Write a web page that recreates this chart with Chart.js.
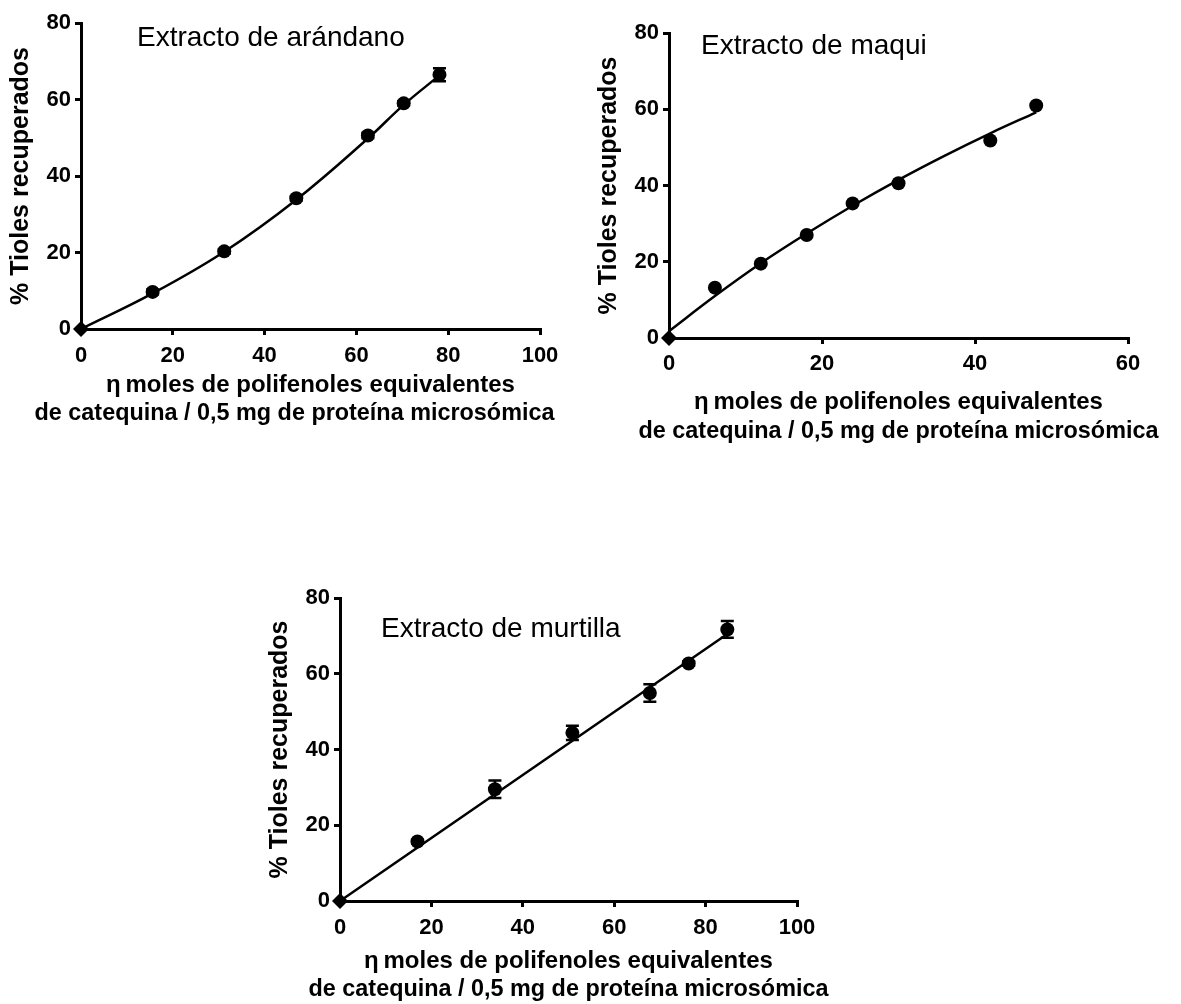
<!DOCTYPE html>
<html>
<head>
<meta charset="utf-8">
<script src="https://cdn.jsdelivr.net/npm/chart.js@4.4.0/dist/chart.umd.min.js"></script>
<style>
  body { margin: 0; background: #fff; width: 1181px; height: 1004px; position: relative; overflow: hidden; }
  canvas { position: absolute; }
</style>
</head>
<body>
<canvas id="c1" width="590" height="440" style="left:0px;top:0px"></canvas>
<canvas id="c2" width="591" height="460" style="left:590px;top:0px"></canvas>
<canvas id="c3" width="600" height="434" style="left:250px;top:570px"></canvas>
<script>
// Extracto de arándano
const arandanoX = [0, 15.6, 31.2, 46.9, 62.5, 70.3, 78.1];
const arandanoY = [0, 9.7, 20.3, 34.2, 50.6, 59.0, 66.5];
const arandanoErr = [0, 0.6, 0.6, 0.6, 0.7, 0.6, 1.7];
const arandanoFitX = [0, 15.6, 31.2, 46.9, 62.5, 70.3, 78.1];
const arandanoFitY = [0, 9.3, 20.2, 33.8, 49.8, 58.6, 66.3];

// Extracto de maqui
const maquiX = [0, 6, 12, 18, 24, 30, 42, 48];
const maquiY = [0, 13.2, 19.5, 27.0, 35.3, 40.6, 51.8, 61.0];
const maquiErr = [0, 0, 0, 0, 0, 0, 0, 0];
const maquiFitX = [0, 6, 12, 18, 24, 30, 36, 42, 48];
const maquiFitY = [1.8, 11.0, 19.6, 27.4, 34.7, 41.5, 47.8, 53.7, 59.2];

// Extracto de murtilla
const murtillaX = [0, 16.95, 33.9, 50.85, 67.8, 76.3, 84.75];
const murtillaY = [0, 15.7, 29.5, 44.4, 54.9, 62.7, 71.7];
const murtillaErr = [0, 0.5, 2.3, 1.9, 2.3, 0.6, 2.2];
const murtillaFitX = [0, 84.75];
const murtillaFitY = [0, 70.5];

const yTicks = [0, 20, 40, 60, 80];
const yTitle = '% Tioles recuperados';
const xTitle = ['\u03b7\u2009moles de polifenoles equivalentes', 'de catequina / 0,5 mg de proteína microsómica'];

const FONT = '"Liberation Sans", Arial, sans-serif';
Chart.defaults.font.family = FONT;
Chart.defaults.color = '#000';

// barras de error dibujadas con las escalas del gráfico
const errorBars = {
    id: 'errorBars',
    afterDatasetsDraw(chart, args, opts) {
        const ctx = chart.ctx;
        const meta = chart.getDatasetMeta(0);
        const ys = chart.scales.y;
        const errs = opts.err || [];
        ctx.save();
        ctx.strokeStyle = '#000';
        ctx.lineWidth = 2.5;
        meta.data.forEach((pt, i) => {
            const e = errs[i];
            if (!e) return;
            const v = chart.data.datasets[0].data[i].y;
            const top = ys.getPixelForValue(v + e);
            const bot = ys.getPixelForValue(v - e);
            ctx.beginPath();
            ctx.moveTo(pt.x, top); ctx.lineTo(pt.x, bot);
            ctx.moveTo(pt.x - 6.5, top); ctx.lineTo(pt.x + 6.5, top);
            ctx.moveTo(pt.x - 6.5, bot); ctx.lineTo(pt.x + 6.5, bot);
            ctx.stroke();
        });
        ctx.restore();
    }
};

// rótulo del panel y título del eje x (sin límite de ancho)
const panelLabel = {
    id: 'panelLabel',
    afterDraw(chart, args, opts) {
        const ctx = chart.ctx;
        const area = chart.chartArea;
        ctx.save();
        ctx.fillStyle = '#000';
        ctx.textBaseline = 'middle';
        ctx.font = '28px ' + FONT;
        ctx.textAlign = 'left';
        ctx.fillText(opts.text, area.left + opts.dx, area.top + opts.dy);
        ctx.textAlign = 'center';
        const cx = (area.left + area.right) / 2;
        ctx.font = 'bold 24px ' + FONT;
        ctx.fillText(xTitle[0], cx, area.bottom + opts.t1);
        ctx.font = 'bold 23.4px ' + FONT;
        ctx.fillText(xTitle[1], cx + opts.shift2, area.bottom + opts.t2);
        ctx.restore();
    }
};

function makeChart(id, xs, ys, errs, fitXs, fitYs, s) {
    const pts = xs.map((x, i) => ({ x: x, y: ys[i] }));
    const fit = fitXs.map((x, i) => ({ x: x, y: fitYs[i] }));
    const styles = xs.map((x, i) => (i === 0 ? 'rectRot' : 'circle'));
    const radii = xs.map((x, i) => (i === 0 ? 8 : 7));
    return new Chart(document.getElementById(id), {
        type: 'scatter',
        data: {
            datasets: [
                { data: pts, pointStyle: styles, pointRadius: radii, backgroundColor: '#000', borderColor: '#000', borderWidth: 0, clip: false },
                { data: fit, showLine: true, pointRadius: 0, borderColor: '#000', borderWidth: 2.5, tension: 0.4, fill: false, clip: false }
            ]
        },
        options: {
            responsive: false,
            animation: false,
            devicePixelRatio: 1,
            layout: { padding: { left: 0, top: s.top, right: s.right, bottom: 0 } },
            plugins: {
                legend: { display: false },
                tooltip: { enabled: false },
                errorBars: { err: errs },
                panelLabel: { text: s.label, dx: s.dx, dy: s.dy, t1: s.t1, t2: s.t2, shift2: s.shift2 }
            },
            scales: {
                x: {
                    type: 'linear', min: 0, max: s.xMax,
                    afterBuildTicks: sc => { sc.ticks = s.xTicks.map(v => ({ value: v })); },
                    afterFit: sc => { sc.height = s.xH; },
                    grid: { drawOnChartArea: false, drawTicks: true, tickLength: 6, color: '#000', lineWidth: 3 },
                    border: { color: '#000', width: 3 },
                    ticks: { font: { size: 22, weight: 'bold' }, padding: s.xPad, color: '#000' },
                    title: { display: false }
                },
                y: {
                    type: 'linear', min: 0, max: 80,
                    afterBuildTicks: sc => { sc.ticks = yTicks.map(v => ({ value: v })); },
                    afterFit: sc => { sc.width = s.yW; },
                    grid: { drawOnChartArea: false, drawTicks: true, tickLength: 6, color: '#000', lineWidth: 3 },
                    border: { color: '#000', width: 3 },
                    ticks: { font: { size: 22, weight: 'bold' }, padding: 4, color: '#000' },
                    title: { display: true, text: yTitle, font: { size: 25, weight: 'bold', lineHeight: 1.2 }, padding: { top: s.yTitlePad, bottom: 0 }, color: '#000' }
                }
            }
        },
        plugins: [errorBars, panelLabel]
    });
}

makeChart('c1', arandanoX, arandanoY, arandanoErr, arandanoFitX, arandanoFitY, {
    label: 'Extracto de arándano', dx: 56, dy: 15,
    top: 23, right: 50, yW: 81, xH: 111, xMax: 100, xTicks: [0, 20, 40, 60, 80, 100],
    xPad: 8, yTitlePad: 6, t1: 56, t2: 85, shift2: -16
});
makeChart('c2', maquiX, maquiY, maquiErr, maquiFitX, maquiFitY, {
    label: 'Extracto de maqui', dx: 32, dy: 13,
    top: 33, right: 53, yW: 79, xH: 122, xMax: 60, xTicks: [0, 20, 40, 60],
    xPad: 7, yTitlePad: 4, t1: 64, t2: 94, shift2: 0
});
makeChart('c3', murtillaX, murtillaY, murtillaErr, murtillaFitX, murtillaFitY, {
    label: 'Extracto de murtilla', dx: 41, dy: 31,
    top: 28, right: 53, yW: 90, xH: 103, xMax: 100, xTicks: [0, 20, 40, 60, 80, 100],
    xPad: 8, yTitlePad: 15, t1: 60, t2: 89, shift2: 0
});
</script>
</body>
</html>
